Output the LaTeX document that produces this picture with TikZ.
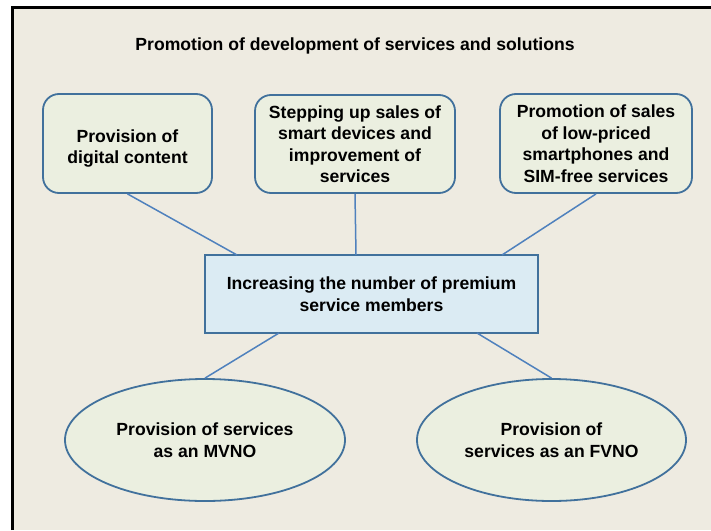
\documentclass[tikz,border=0pt]{standalone}
\usepackage{fontspec}
\setmainfont{Liberation Sans}
\usetikzlibrary{shapes.geometric}
\definecolor{bgbeige}{HTML}{EEEBE1}
\definecolor{boxfill}{HTML}{EBEFE0}
\definecolor{rectfill}{HTML}{DBEBF3}
\definecolor{edgeblue}{HTML}{41719C}
\definecolor{lineblue}{HTML}{4F81BD}
\tikzset{
  lbl/.style={font=\fontsize{17.6}{21.5}\selectfont\bfseries, align=center, text=black},
  rbox/.style={lbl, draw=edgeblue, line width=1.8pt, fill=boxfill, rounded corners=16pt, inner sep=0pt},
  cbox/.style={lbl, draw=edgeblue, line width=1.8pt, fill=rectfill, inner sep=0pt},
  ebox/.style={lbl, draw=edgeblue, line width=1.8pt, fill=boxfill, ellipse, inner sep=0pt},
  conn/.style={draw=lineblue, line width=1.5pt}
}
\begin{document}
\begin{tikzpicture}[x=1pt,y=-1pt]
\useasboundingbox (0,0) rectangle (711,530);
\fill[white] (0,0) rectangle (711,530);
\fill[bgbeige] (11,6) rectangle (711,530);
\draw[black, line width=2.6pt] (12.3,530) -- (12.3,7.3) -- (711,7.3);

\node[lbl] (title) at (355,46) {Promotion of development of services and solutions};

\node[rbox, minimum width=169pt, minimum height=99pt, text height=44pt] (b1) at (127.5,143.5) {Provision of\\digital content};
\node[rbox, minimum width=200pt, minimum height=98pt] (b2) at (355,144) {Stepping up sales of\\smart devices and\\improvement of\\services};
\node[rbox, minimum width=192pt, minimum height=99pt] (b3) at (596,143.5) {Promotion of sales\\of low-priced\\smartphones and\\SIM-free services};

\node[cbox, minimum width=333pt, minimum height=78pt] (c) at (371.5,294) {Increasing the number of premium\\service members};

\node[ebox, minimum width=280pt, minimum height=122pt] (e1) at (205,440) {Provision of services\\as an MVNO};
\node[ebox, minimum width=269pt, minimum height=122pt] (e2) at (551.5,440) {Provision of\\services as an FVNO};

\coordinate (c1) at (237,255);
\coordinate (c2) at (356,255);
\coordinate (c3) at (502,255);
\coordinate (c4) at (279,333);
\coordinate (c5) at (477,333);

\draw[conn] (b1.south) -- (c1);
\draw[conn] (b2.south) -- (c2);
\draw[conn] (b3.south) -- (c3);
\draw[conn] (c4) -- (e1.north);
\draw[conn] (c5) -- (e2.north);
\end{tikzpicture}
\end{document}
